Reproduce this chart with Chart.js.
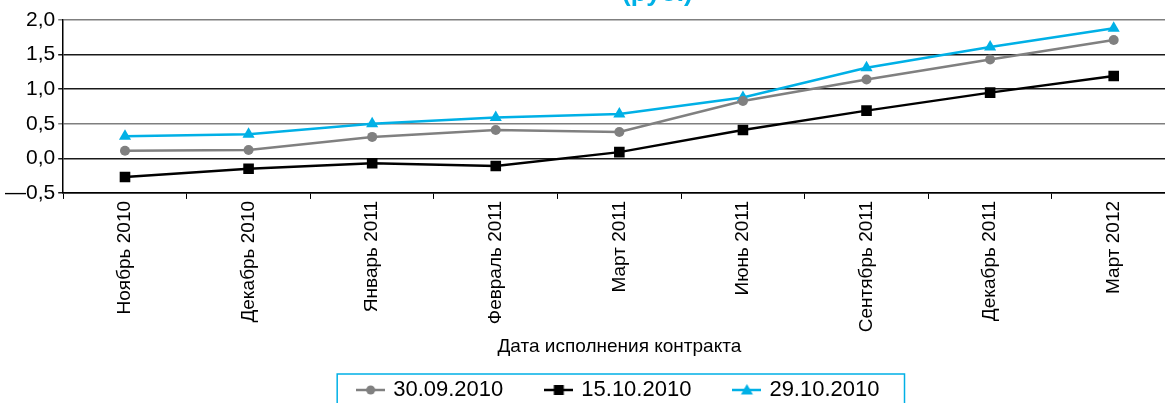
<!DOCTYPE html>
<html>
<head>
<meta charset="utf-8">
<script src="https://cdn.jsdelivr.net/npm/chart.js@4.4.1/dist/chart.umd.min.js"></script>
<style>
  html, body { margin: 0; padding: 0; background: #fff; overflow: hidden; }
  #wrap { position: relative; width: 1183px; height: 403px; }
</style>
</head>
<body>
<div id="wrap"><canvas id="c"></canvas></div>
<script>
const titleText = '(руб.)';
const xAxisTitle = 'Дата исполнения контракта';
const categories = ['Ноябрь 2010', 'Декабрь 2010', 'Январь 2011', 'Февраль 2011', 'Март 2011', 'Июнь 2011', 'Сентябрь 2011', 'Декабрь 2011', 'Март 2012'];
const seriesNames = ['30.09.2010', '15.10.2010', '29.10.2010'];
const s30092010 = [0.11, 0.12, 0.31, 0.41, 0.38, 0.83, 1.14, 1.43, 1.71];
const s15102010 = [-0.27, -0.15, -0.07, -0.11, 0.09, 0.41, 0.69, 0.95, 1.19];
const s29102010 = [0.32, 0.35, 0.50, 0.59, 0.64, 0.88, 1.31, 1.61, 1.88];
const yMin = -0.5, yMax = 2.0, yStep = 0.5;

const GRAY = '#808080', BLACK = '#000000', CYAN = '#00b0e6';
const FONT = '"Liberation Sans", Arial, Helvetica, sans-serif';
const ICON_BOX = 23;   // legend point-style box width
const ICON_W = ICON_BOX + 6;

function legendIcon(color, style) {
  const c = document.createElement('canvas');
  c.width = ICON_W; c.height = 16;
  const g = c.getContext('2d');
  const cx = ICON_W / 2, cy = 8;
  g.strokeStyle = color; g.lineWidth = 2.5;
  g.beginPath(); g.moveTo(0, cy); g.lineTo(ICON_W, cy); g.stroke();
  g.fillStyle = color;
  g.beginPath();
  if (style === 'circle') { g.arc(cx, cy, 4.5, 0, Math.PI * 2); }
  else if (style === 'rect') { g.rect(cx - 5, cy - 5, 10, 10); }
  else { g.moveTo(cx, cy - 6); g.lineTo(cx + 6, cy + 4.5); g.lineTo(cx - 6, cy + 4.5); g.closePath(); }
  g.fill();
  return c;
}

const decor = {
  id: 'decor',
  afterDraw(chart) {
    const ctx = chart.ctx;
    ctx.save();
    ctx.font = 'bold 26px ' + FONT;
    ctx.fillStyle = CYAN;
    ctx.textAlign = 'left';
    ctx.textBaseline = 'alphabetic';
    ctx.fillText(titleText, 622, 1);
    const hb = chart.legend.legendHitBoxes;
    if (hb && hb.length) {
      const first = hb[0], last = hb[hb.length - 1];
      const left = first.left - 3 - 19;
      const right = last.left + last.width + 25;
      const top = first.top - 5;
      ctx.strokeStyle = CYAN; ctx.lineWidth = 1.5;
      ctx.strokeRect(left, top, right - left, 80);
    }
    ctx.restore();
  }
};

new Chart(document.getElementById('c'), {
  type: 'line',
  data: {
    labels: categories,
    datasets: [
      { label: seriesNames[0], data: s30092010, borderColor: GRAY, backgroundColor: GRAY, borderWidth: 2.5,
        pointStyle: 'circle', pointRadius: 5, pointBorderWidth: 0, pointBackgroundColor: GRAY, _icon: legendIcon(GRAY, 'circle') },
      { label: seriesNames[1], data: s15102010, borderColor: BLACK, backgroundColor: BLACK, borderWidth: 2.5,
        pointStyle: 'rect', pointRadius: 7.5, pointBorderWidth: 0, pointBackgroundColor: BLACK, _icon: legendIcon(BLACK, 'rect') },
      { label: seriesNames[2], data: s29102010, borderColor: CYAN, backgroundColor: CYAN, borderWidth: 2.5,
        pointStyle: 'triangle', pointRadius: 7, pointBorderWidth: 0, pointBackgroundColor: CYAN, _icon: legendIcon(CYAN, 'triangle') }
    ]
  },
  options: {
    responsive: true,
    maintainAspectRatio: false,
    animation: false,
    layout: { padding: { top: 20, left: 2, right: 0, bottom: -8 } },
    plugins: {
      title: { display: false },
      tooltip: { enabled: false },
      legend: {
        position: 'bottom',
        fullSize: false,
        labels: {
          usePointStyle: true,
          pointStyleWidth: ICON_BOX,
          padding: 44,
          color: '#000',
          font: { family: FONT, size: 22 },
          generateLabels(chart) {
            return chart.data.datasets.map((ds, i) => ({
              text: ds.label, pointStyle: ds._icon, fillStyle: ds.borderColor,
              strokeStyle: ds.borderColor, lineWidth: 0, hidden: false, datasetIndex: i, fontColor: '#000'
            }));
          }
        }
      }
    },
    scales: {
      x: {
        type: 'category',
        offset: true,
        border: { display: true, color: '#000', width: 1.5 },
        grid: { drawOnChartArea: false, drawTicks: true, tickLength: 6, color: '#000', lineWidth: 1, offset: true },
        ticks: { color: '#000', minRotation: 90, maxRotation: 90, autoSkip: false, padding: 2, font: { family: FONT, size: 19 } },
        title: { display: true, text: xAxisTitle, color: '#000', font: { family: FONT, size: 19 }, padding: { top: 1, bottom: -23 } }
      },
      y: {
        min: yMin, max: yMax,
        border: { display: true, color: '#000', width: 1.5 },
        grid: {
          drawTicks: true, tickLength: 5, lineWidth: 1.5,
          color: (c) => (c.tick && (Math.abs(c.tick.value - 2) < 1e-6 || Math.abs(c.tick.value - 0.5) < 1e-6)) ? '#7f7f7f' : '#1a1a1a'
        },
        ticks: {
          stepSize: yStep, color: '#000', padding: 3, font: { family: FONT, size: 21 },
          callback: (v) => (v < 0 ? '—' : '') + Math.abs(v).toFixed(1).replace('.', ',')
        }
      }
    }
  },
  plugins: [decor]
});
</script>
</body>
</html>
